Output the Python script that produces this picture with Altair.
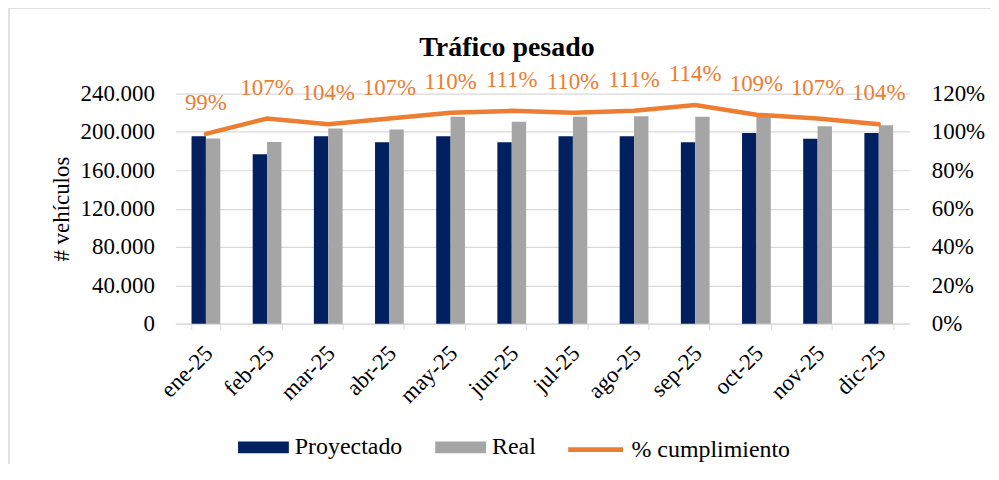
import altair as alt
import pandas as pd

months = ["ene-25", "feb-25", "mar-25", "abr-25", "may-25", "jun-25",
          "jul-25", "ago-25", "sep-25", "oct-25", "nov-25", "dic-25"]
proyectado = [195500, 176600, 195500, 189200, 195500, 189200,
              195500, 195500, 189200, 199000, 192800, 199000]
real = [193200, 189400, 203600, 202600, 215700, 210500,
        215700, 216400, 215700, 216900, 206000, 207000]
cumplimiento = [0.99, 1.07, 1.04, 1.07, 1.10, 1.11, 1.10, 1.11, 1.14, 1.09, 1.07, 1.04]
bar_series = ["Proyectado", "Real"]
bar_colors = ["#002060", "#A5A5A5"]
line_series = "% cumplimiento"
line_color = "#ED7D31"
left_ticks = [0, 40000, 80000, 120000, 160000, 200000, 240000]
right_ticks = [0, 0.2, 0.4, 0.6, 0.8, 1.0, 1.2]
title_text = "Tráfico pesado"

FONT = "Liberation Serif"

bars_df = pd.DataFrame({
    "month": months * 2,
    "serie": ["Proyectado"] * 12 + ["Real"] * 12,
    "value": proyectado + real,
})
line_df = pd.DataFrame({"month": months, "pct": cumplimiento})
one = pd.DataFrame({"a": [0]})

RECT = "M-1,-0.235H1V0.235H-1Z"

legend_common = dict(
    title=None, orient="none", direction="horizontal",
    labelFont=FONT, labelFontSize=24, labelColor="black",
    labelOffset=6, columnPadding=33, padding=0,
)

X = alt.X(
    "month:N", sort=months,
    scale=alt.Scale(paddingInner=0.53, paddingOuter=0.265),
    axis=alt.Axis(title=None, labelAngle=-45, labelAlign="right", labelBaseline="top",
                  labelFont=FONT, labelFontSize=23, labelOffset=-5,
                  labelColor="black", domainColor="#d9d9d9", tickColor="#d9d9d9",
                  tickSize=6, tickBand="extent", labelPadding=12, grid=False),
)

bars = alt.Chart(bars_df).mark_bar().encode(
    x=X,
    xOffset=alt.XOffset("serie:N", sort=bar_series,
                        scale=alt.Scale(paddingInner=0, paddingOuter=0)),
    y=alt.Y("value:Q", scale=alt.Scale(domain=[0, 240000], nice=False),
            axis=alt.Axis(values=left_ticks,
                          labelExpr="replace(format(datum.value, ','), ',', '.')",
                          grid=True, gridColor="#d9d9d9", gridWidth=1.2,
                          domain=False, ticks=False, title="# vehículos",
                          titleFont=FONT, titleFontSize=23, titleFontWeight="normal",
                          titleColor="black", labelFont=FONT, labelFontSize=23,
                          labelColor="black", labelPadding=21, titlePadding=6)),
    color=alt.Color("serie:N", sort=bar_series,
                    scale=alt.Scale(domain=bar_series, range=bar_colors),
                    legend=alt.Legend(legendX=63, legendY=329.5, symbolType=RECT,
                                      symbolSize=2601, symbolStrokeWidth=0,
                                      **legend_common)),
)

Y2 = alt.Y("pct:Q", scale=alt.Scale(domain=[0, 1.2], nice=False),
           axis=alt.Axis(orient="right", values=right_ticks, format=".0%",
                         grid=False, domain=False, ticks=False, title=None,
                         labelFont=FONT, labelFontSize=23, labelColor="black",
                         labelPadding=22))

line = alt.Chart(line_df).transform_calculate(
    serie=f"'{line_series}'"
).mark_line(strokeWidth=4.5, strokeCap="round").encode(
    x=X, y=Y2,
    stroke=alt.Stroke("serie:N", scale=alt.Scale(domain=[line_series], range=[line_color]),
                      legend=alt.Legend(legendX=392, legendY=327.5, symbolType="stroke",
                                        symbolSize=3025, symbolStrokeWidth=5,
                                        **legend_common)),
)

labels = alt.Chart(line_df).mark_text(
    dy=-24, baseline="alphabetic", font=FONT, fontSize=23, color=line_color
).encode(x=X, y=Y2, text=alt.Text("pct:Q", format=".0%"))

border = alt.Chart(one).mark_rect(filled=False, stroke="#d9d9d9", strokeWidth=1.5).encode(
    x=alt.value(-167), x2=alt.value(840), y=alt.value(-86), y2=alt.value(420)
)

title = alt.Chart(one).mark_text(
    font=FONT, fontSize=28, fontWeight="bold", color="black",
    align="center", baseline="alphabetic"
).encode(x=alt.value(333), y=alt.value(-38), text=alt.value(title_text))

chart = alt.layer(
    border, bars, alt.layer(line, labels), title
).resolve_scale(y="independent").properties(
    width=737, height=231,
    autosize=alt.AutoSizeParams(type="none"),
    padding={"left": 168, "top": 85, "right": 82, "bottom": 140},
    background="white",
).configure_view(stroke=None)

chart.save("out.html", embed_options={"renderer": "svg", "actions": False})
